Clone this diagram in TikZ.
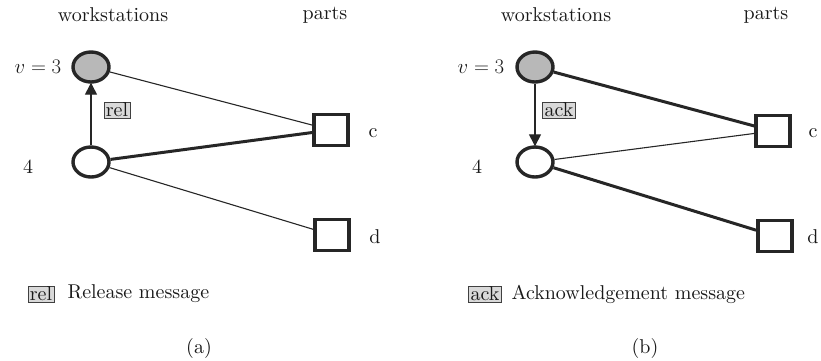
\documentclass[tikz,border=0pt]{standalone}
\usepackage{fontspec}
\setmainfont{lmroman10-regular.otf}
\usetikzlibrary{shapes.geometric,arrows.meta}
\begin{document}
\begin{tikzpicture}[x=1pt,y=-1pt,
  every node/.style={text=black!90, font=\fontsize{20}{22}\selectfont},
  ws/.style={ellipse, draw=black!85, line width=3.4pt, minimum width=36pt, minimum height=30pt, inner sep=0pt, fill=white},
  wsact/.style={ws, fill=black!28},
  part/.style={rectangle, draw=black!85, line width=3.8pt, minimum width=34pt, minimum height=31pt, inner sep=0pt},
  msg/.style={draw=black!75, fill=black!15, line width=0.7pt, inner xsep=2pt, inner ysep=1pt, font=\fontsize{20}{20}\selectfont},
  thin/.style={draw=black!85, line width=1.1pt},
  thick/.style={draw=black!85, line width=3pt},
  arr/.style={draw=black!85, line width=1.3pt, -{Triangle[length=12pt,width=12pt]}, shorten >=-1pt}]
\useasboundingbox (0,0) rectangle (821,360);
% ---------- panel (a)
\node (wsa) at (113,15) {workstations};
\node (pa) at (325,15) {parts};
\node[wsact] (a3) at (91,67) {};
\node[ws] (a4) at (91,162) {};
\node (a3l) at (38,67) {$v=3$};
\node (a4l) at (28,167) {4};
\node[part] (ac) at (331,130) {};
\node[part] (ad) at (332,235) {};
\node (acl) at (373,133) {c};
\node (adl) at (375,237) {d};
\draw[thin] (a3) -- (ac);
\draw[thick] (a4) -- (ac);
\draw[thin] (a4) -- (ad);
\draw[arr] (a4) -- (a3);
\node[msg] (arel) at (117,110) {rel};
\node[msg] (legrel) at (41,294) {rel};
\node[anchor=west] (legreltxt) at (64,294) {Release message};
\node (capa) at (199,348) {(a)};
% ---------- panel (b)
\node (wsb) at (556,15) {workstations};
\node (pb) at (766,15) {parts};
\node[wsact] (b3) at (535,67) {};
\node[ws] (b4) at (535,162) {};
\node (b3l) at (481,67) {$v=3$};
\node (b4l) at (477,167) {4};
\node[part] (bc) at (773,131) {};
\node[part] (bd) at (775,236) {};
\node (bcl) at (813,133) {c};
\node (bdl) at (813,237) {d};
\draw[thick] (b3) -- (bc);
\draw[thin] (b4) -- (bc);
\draw[thick] (b4) -- (bd);
\draw[arr] (b3) -- (b4);
\node[msg] (back) at (559,110) {ack};
\node[msg] (legack) at (485,294) {ack};
\node[anchor=west] (legacktxt) at (508,294) {Acknowledgement message};
\node (capb) at (645,348) {(b)};
\end{tikzpicture}
\end{document}
